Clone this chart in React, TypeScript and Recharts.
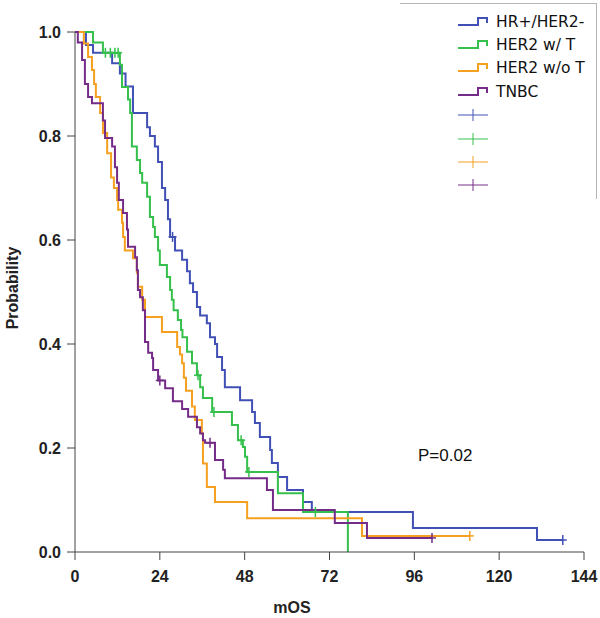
import React from "react";
import { ComposedChart, Line, Scatter, XAxis, YAxis, Label } from "recharts";

const monthTicks = [0, 24, 48, 72, 96, 120, 144];
const probTicks = [0, 0.2, 0.4, 0.6, 0.8, 1.0];

// HR+/HER2-  (event times in months, survival after each step)
const hrTimes = [0, 3.1, 5.1, 10.5, 12.7, 14.3, 16.4, 20.4, 21.2, 22.6, 23.5, 24.6, 25.5, 26.3, 26.9, 28.3, 30.3, 31.7, 32.5, 33.4, 34.5, 35.4, 37.3, 38.2, 39.6, 40.2, 41.6, 42.4, 46.7, 50.1, 50.9, 52.3, 55.2, 55.7, 57.4, 60.0, 64.5, 67.0, 95.6, 130.7];
const hrSurv = [1, 0.975, 0.96, 0.94, 0.92, 0.895, 0.844, 0.817, 0.8, 0.78, 0.75, 0.7, 0.677, 0.64, 0.606, 0.58, 0.562, 0.54, 0.517, 0.5, 0.471, 0.455, 0.44, 0.413, 0.4, 0.375, 0.35, 0.317, 0.292, 0.269, 0.248, 0.221, 0.196, 0.171, 0.144, 0.119, 0.096, 0.077, 0.046, 0.023];
const hrEnd = 138;
const hrCensor = [27.6, 138];

// HER2 w/ T
const herTTimes = [0, 5.1, 7.9, 12.7, 13.3, 15.0, 15.6, 16.1, 17.5, 18.4, 19.0, 20.4, 21.2, 22.1, 22.6, 23.5, 24.0, 26.0, 26.9, 27.4, 27.9, 29.1, 30.0, 30.4, 31.7, 33.1, 34.5, 35.4, 36.2, 38.8, 44.4, 46.1, 47.5, 48.1, 48.7, 57.4, 64.5, 77.2];
const herTSurv = [1, 0.98, 0.96, 0.937, 0.894, 0.87, 0.844, 0.78, 0.754, 0.729, 0.71, 0.683, 0.644, 0.625, 0.606, 0.58, 0.552, 0.529, 0.504, 0.485, 0.465, 0.446, 0.427, 0.413, 0.385, 0.363, 0.34, 0.317, 0.296, 0.269, 0.244, 0.215, 0.202, 0.183, 0.154, 0.113, 0.077, 0];
const herTEnd = 77.2;
const herTCensor = [8.6, 10.0, 11.3, 12.2, 34.8, 39.3, 47.0, 49.2, 68.0];

// HER2 w/o T
const herNTimes = [0, 2.5, 3.7, 4.8, 5.4, 5.9, 7.1, 7.9, 9.1, 10.2, 11.0, 11.9, 12.2, 13.3, 13.6, 14.1, 16.4, 17.5, 17.8, 19.0, 19.8, 24.6, 28.9, 29.7, 30.3, 30.8, 31.4, 33.1, 33.9, 35.9, 36.2, 37.3, 39.6, 48.7, 81.2];
const herNSurv = [1, 0.978, 0.952, 0.927, 0.9, 0.875, 0.844, 0.806, 0.767, 0.72, 0.7, 0.677, 0.658, 0.633, 0.606, 0.58, 0.565, 0.537, 0.51, 0.485, 0.452, 0.423, 0.394, 0.38, 0.363, 0.335, 0.31, 0.28, 0.254, 0.228, 0.17, 0.125, 0.096, 0.065, 0.031];
const herNEnd = 111.7;
const herNCensor = [111.7];

// TNBC
const tnbcTimes = [0, 0.8, 2.0, 2.8, 3.7, 4.8, 7.9, 8.5, 10.5, 11.3, 11.9, 12.4, 13.6, 14.7, 15.0, 17.0, 17.5, 17.8, 18.4, 19.2, 19.8, 20.7, 21.8, 22.1, 23.5, 25.5, 27.7, 30.3, 32.0, 34.5, 35.4, 36.2, 36.8, 39.6, 41.9, 42.4, 54.3, 56.0, 73.5, 82.6];
const tnbcSurv = [1, 0.98, 0.946, 0.9, 0.875, 0.863, 0.83, 0.796, 0.78, 0.74, 0.71, 0.677, 0.652, 0.62, 0.587, 0.567, 0.542, 0.504, 0.49, 0.465, 0.404, 0.383, 0.373, 0.35, 0.33, 0.315, 0.29, 0.275, 0.26, 0.24, 0.228, 0.215, 0.21, 0.177, 0.158, 0.142, 0.119, 0.081, 0.056, 0.027];
const tnbcEnd = 101;
const tnbcCensor = [24.0, 38.2, 101];

const groups = ["HR+/HER2-", "HER2 w/ T", "HER2 w/o T", "TNBC"];
const colors = ["#4050B5", "#35C04C", "#F5A020", "#742C88"];

function toSteps(times: number[], surv: number[], end: number) {
  const pts = times.map((t, i) => ({ t, p: surv[i] }));
  if (end > times[times.length - 1]) pts.push({ t: end, p: surv[surv.length - 1] });
  return pts;
}

function survivalAt(times: number[], surv: number[], t: number) {
  let p = surv[0];
  for (let i = 0; i < times.length; i++) if (times[i] <= t) p = surv[i];
  return p;
}

const series = [
  { name: groups[0], color: colors[0], data: toSteps(hrTimes, hrSurv, hrEnd), censor: hrCensor.map((t) => ({ t, p: survivalAt(hrTimes, hrSurv, t) })) },
  { name: groups[1], color: colors[1], data: toSteps(herTTimes, herTSurv, herTEnd), censor: herTCensor.map((t) => ({ t, p: survivalAt(herTTimes, herTSurv, t) })) },
  { name: groups[2], color: colors[2], data: toSteps(herNTimes, herNSurv, herNEnd), censor: herNCensor.map((t) => ({ t, p: survivalAt(herNTimes, herNSurv, t) })) },
  { name: groups[3], color: colors[3], data: toSteps(tnbcTimes, tnbcSurv, tnbcEnd), censor: tnbcCensor.map((t) => ({ t, p: survivalAt(tnbcTimes, tnbcSurv, t) })) },
];

const axisFont = "'Liberation Sans', Arial, sans-serif";

function censorShape(color: string) {
  return (props: any) => {
    const { cx, cy } = props;
    if (cx == null || cy == null) return <g />;
    return (
      <g>
        <line x1={cx} x2={cx} y1={cy - 5} y2={cy + 5} stroke={color} strokeWidth={1.5} />
        <line x1={cx - 4} x2={cx + 4} y1={cy} y2={cy} stroke={color} strokeWidth={1.5} />
      </g>
    );
  };
}

function StepIcon({ color }: { color: string }) {
  return (
    <svg width={32} height={12} style={{ display: "block" }}>
      <polyline points="1,9 21,9 21,2 30,2 30,7" fill="none" stroke={color} strokeWidth={2} />
    </svg>
  );
}

function PlusIcon({ color }: { color: string }) {
  return (
    <svg width={32} height={12} style={{ display: "block" }}>
      <line x1={1} x2={31} y1={6} y2={6} stroke={color} strokeWidth={1.5} opacity={0.65} />
      <line x1={16} x2={16} y1={0} y2={12} stroke={color} strokeWidth={1.5} opacity={0.65} />
    </svg>
  );
}

export default function App() {
  return (
    <div style={{ position: "absolute", left: 0, top: 0, width: 600, height: 618, background: "#fff" }}>
      <ComposedChart width={600} height={618} margin={{ top: 32, right: 16, left: 0, bottom: 0 }}>
        <XAxis
          dataKey="t"
          type="number"
          domain={[0, 144]}
          ticks={monthTicks}
          allowDataOverflow
          height={66}
          tickSize={8}
          tickMargin={11}
          stroke="#444"
          tick={{ fill: "#222", fontSize: 16, fontWeight: 700, fontFamily: axisFont }}
        >
          <Label
            content={() => (
              <text x={292} y={613} textAnchor="middle" fontSize={16} fontWeight={700} fontFamily={axisFont} fill="#222">
                mOS
              </text>
            )}
          />
        </XAxis>
        <YAxis
          type="number"
          domain={[0, 1]}
          ticks={probTicks}
          width={75}
          tickSize={8}
          tickMargin={6}
          stroke="#444"
          tickFormatter={(v: number) => v.toFixed(1)}
          tick={{ fill: "#222", fontSize: 16, fontWeight: 700, fontFamily: axisFont }}
        >
          <Label
            content={() => (
              <text x={18} y={288} transform="rotate(-90 18 288)" textAnchor="middle" fontSize={16} fontWeight={700} fontFamily={axisFont} fill="#222">
                Probability
              </text>
            )}
          />
        </YAxis>
        {series.map((s) => (
          <Line
            key={s.name}
            data={s.data}
            dataKey="p"
            type="stepAfter"
            stroke={s.color}
            strokeWidth={2}
            dot={false}
            activeDot={false}
            isAnimationActive={false}
          />
        ))}
        {series.map((s) => (
          <Scatter
            key={s.name + "-c"}
            data={s.censor}
            dataKey="p"
            fill={s.color}
            shape={censorShape(s.color)}
            isAnimationActive={false}
          />
        ))}
      </ComposedChart>

      <div
        style={{
          position: "absolute",
          left: 400,
          top: 3,
          width: 196,
          height: 195,
          borderTop: "1px solid #b5b5b5",
          borderRight: "1px solid #b5b5b5",
        }}
      />
      <div style={{ position: "absolute", left: 457, top: 10, fontFamily: "'DejaVu Sans', sans-serif", fontSize: 15.5, color: "#111" }}>
        {series.map((s) => (
          <div key={s.name} style={{ display: "flex", alignItems: "center", height: 23.4 }}>
            <StepIcon color={s.color} />
            <span style={{ marginLeft: 7 }}>{s.name}</span>
          </div>
        ))}
        {series.map((s) => (
          <div key={s.name + "-p"} style={{ display: "flex", alignItems: "center", height: 23.4 }}>
            <PlusIcon color={s.color} />
          </div>
        ))}
      </div>
      <div style={{ position: "absolute", left: 418, top: 446, fontFamily: axisFont, fontSize: 17, color: "#111" }}>P=0.02</div>
    </div>
  );
}
